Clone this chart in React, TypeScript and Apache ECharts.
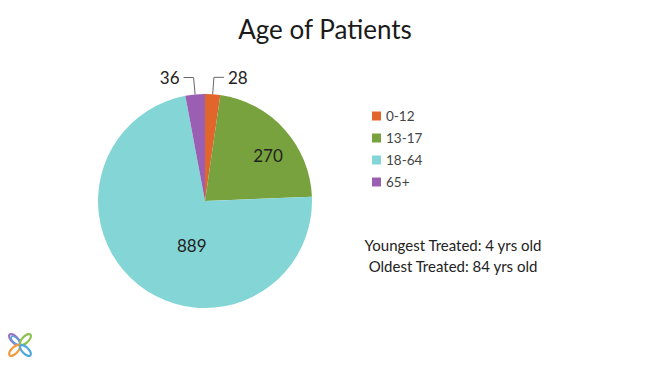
import React, { useEffect, useRef } from "react";
import * as echarts from "echarts";

const categories = ["0-12", "13-17", "18-64", "65+"];
const values = [28, 270, 889, 36];
const colors = ["#E2652C", "#78A23E", "#84D6D6", "#9A5EB2"];
const titleText = "Age of Patients";
const noteLines = ["Youngest Treated: 4 yrs old", "Oldest Treated: 84 yrs old"];

const FONT = "Lato, 'Open Sans', sans-serif";

export default function App() {
  const ref = useRef<HTMLDivElement>(null);
  useEffect(() => {
    document.body.style.margin = "0";
    const chart = echarts.init(ref.current!, null, { renderer: "svg" });
    const insideShift: Record<number, [number, number]> = { 1: [21, -8], 2: [22, 0] };
    const petal = (x: number, y: number, rot: number, stroke: string, rx = 7, ry = 3.2, lw = 2.2) => ({
      type: "ellipse",
      x,
      y,
      rotation: rot,
      shape: { cx: 0, cy: 0, rx, ry },
      style: { fill: "none", stroke, lineWidth: lw },
    });
    chart.setOption({
      animation: false,
      backgroundColor: "#ffffff",
      title: {
        text: titleText,
        left: "center",
        top: 11,
        textStyle: { fontFamily: FONT, fontSize: 26, fontWeight: "normal", color: "#1a1a1a" },
      },
      legend: {
        orient: "vertical",
        left: 367,
        top: 104,
        itemWidth: 9,
        itemHeight: 9,
        itemGap: 8,
        icon: "rect",
        data: categories,
        textStyle: { fontFamily: FONT, fontSize: 13.5, color: "#444" },
      },
      color: colors,
      series: [
        {
          type: "pie",
          center: [205, 201],
          radius: 107,
          startAngle: 90,
          clockwise: true,
          data: categories.map((c, i) => ({
            name: c,
            value: values[i],
            label: {
              position: i === 1 || i === 2 ? "inside" : "outside",
            },
            labelLine: { show: !(i === 1 || i === 2) },
          })),
          label: {
            formatter: "{c}",
            fontFamily: FONT,
            fontSize: 17,
            color: "#222",
            distanceToLabelLine: 4,
          },
          labelLine: {
            length: 17,
            length2: 10,
            lineStyle: { color: "#666", width: 1 },
          },
          labelLayout: (params: any) => {
            const s = insideShift[params.dataIndex];
            if (s) return { dx: s[0], dy: s[1] };
            return {};
          },
          itemStyle: { borderWidth: 0 },
          emphasis: { disabled: true },
        },
      ],
      graphic: [
        {
          type: "text",
          x: 453,
          y: 234,
          style: {
            text: noteLines.join("\n"),
            textAlign: "center",
            fontFamily: FONT,
            fontSize: 15,
            lineHeight: 21,
            fill: "#222",
          },
        },
        {
          type: "group",
          x: 20,
          y: 345,
          children: [
            petal(-5.5, -5.5, -Math.PI / 4, "#9C6FC0"),
            petal(-4.5, -4.5, -Math.PI / 4, "#5BA3DB", 5.5, 2.4, 1.6),
            petal(5.5, -5.5, Math.PI / 4, "#8CC152"),
            petal(-5.5, 5.5, Math.PI / 4, "#F39A3B"),
            petal(5.5, 5.5, -Math.PI / 4, "#4FA8D8"),
          ],
        },
      ],
    });
    return () => chart.dispose();
  }, []);
  return <div ref={ref} style={{ width: 650, height: 366 }} />;
}
